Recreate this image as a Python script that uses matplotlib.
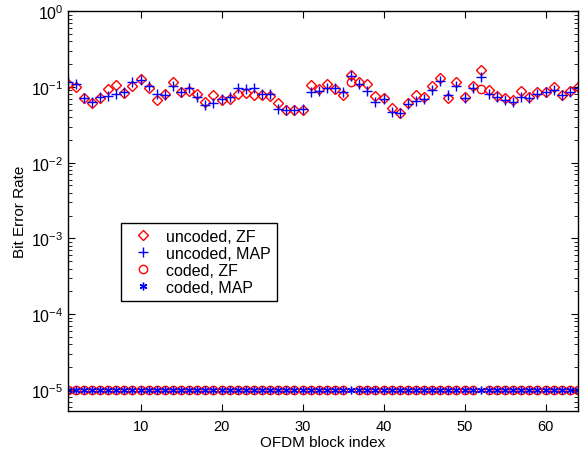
import numpy as np
import matplotlib
matplotlib.use("Agg")
from matplotlib import pyplot as plt

plt.rcParams['font.family'] = ['Liberation Sans', 'DejaVu Sans']
plt.rcParams['mathtext.fontset'] = 'custom'
plt.rcParams['mathtext.rm'] = 'Liberation Sans'

blocks = list(range(1, 65))

uncoded_zf = [0.110, 0.099, 0.071, 0.061, 0.071, 0.093, 0.106, 0.084, 0.104, 0.128,
              0.096, 0.067, 0.080, 0.118, 0.087, 0.089, 0.082, 0.064, 0.078, 0.067,
              0.069, 0.082, 0.084, 0.078, 0.078, 0.076, 0.061, 0.049, 0.049, 0.049,
              0.106, 0.093, 0.110, 0.093, 0.078, 0.144, 0.118, 0.110, 0.076, 0.071,
              0.053, 0.046, 0.061, 0.078, 0.073, 0.103, 0.130, 0.072, 0.116, 0.074,
              0.104, 0.168, 0.091, 0.077, 0.072, 0.067, 0.088, 0.074, 0.085, 0.087,
              0.101, 0.078, 0.088, 0.101]
uncoded_map = [0.118, 0.110, 0.071, 0.064, 0.073, 0.076, 0.080, 0.085, 0.118, 0.124,
               0.103, 0.082, 0.078, 0.103, 0.087, 0.096, 0.074, 0.058, 0.061, 0.069,
               0.073, 0.096, 0.093, 0.096, 0.082, 0.081, 0.052, 0.049, 0.049, 0.051,
               0.087, 0.089, 0.096, 0.096, 0.087, 0.140, 0.110, 0.089, 0.064, 0.069,
               0.047, 0.046, 0.059, 0.066, 0.069, 0.091, 0.121, 0.078, 0.104, 0.071,
               0.098, 0.137, 0.082, 0.074, 0.067, 0.064, 0.074, 0.071, 0.082, 0.085,
               0.091, 0.078, 0.085, 0.096]
# coded results: 1e-5 stands for "no errors"
coded_zf = [1e-5] * 64
coded_zf[35] = 0.116
coded_zf[51] = 0.094
coded_map = [1e-5] * 64

fig = plt.figure(figsize=(5.85, 4.56), dpi=100)
ax = fig.add_axes([0.1157, 0.0965, 0.8723, 0.8765])

ax.semilogy(blocks, uncoded_zf, 'rD', mfc='none', ms=5, mew=1, label='uncoded, ZF')
ax.semilogy(blocks, uncoded_map, 'b+', ms=6.5, mew=1, label='uncoded, MAP')
ax.semilogy(blocks, coded_zf, 'ro', mfc='none', ms=6, mew=1, label='coded, ZF')
ax.semilogy(blocks, coded_map, color='b', ls='none', marker=(6, 2, 0), ms=5.5, mew=1,
            label='coded, MAP')

ax.set_xlim(1, 64)
ax.set_ylim(10 ** -5.28, 1)
ax.set_xticks([10, 20, 30, 40, 50, 60])
ax.tick_params(which='both', direction='in', top=True, right=True)
ax.tick_params(axis='x', labelsize=10.5, pad=6)
ax.tick_params(axis='y', labelsize=11.5, pad=3)
ax.tick_params(which='major', length=5)
ax.tick_params(which='minor', length=3)
for s in ax.spines.values():
    s.set_linewidth(1)

ax.set_xlabel('OFDM block index', fontsize=11, labelpad=1)
ax.set_ylabel('Bit Error Rate', fontsize=11, labelpad=3)

leg = ax.legend(loc='lower left', bbox_to_anchor=(0.1045, 0.275), numpoints=1,
                borderaxespad=0, fancybox=False, framealpha=1, edgecolor='black',
                fontsize=11.5, handlelength=1.95, handletextpad=0.46, borderpad=0.4,
                labelspacing=0.12)
leg.get_frame().set_linewidth(1)

fig.savefig('out.png', dpi=100)
